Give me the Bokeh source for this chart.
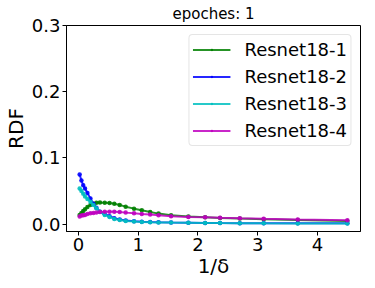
from bokeh.plotting import figure
from bokeh.embed import file_html
from bokeh.resources import INLINE
from bokeh.models import Range1d, FixedTicker, Legend, LegendItem

x = [0.02, 0.05, 0.08, 0.11, 0.15, 0.2, 0.25, 0.3, 0.36, 0.44, 0.52, 0.6, 0.69,
     0.79, 0.93, 1.06, 1.2, 1.34, 1.55, 1.84, 2.12, 2.37, 2.7, 3.1, 3.67, 4.5]

resnet1 = [0.014, 0.017, 0.020, 0.0225, 0.026, 0.029, 0.031, 0.0323, 0.0328, 0.0325,
           0.032, 0.031, 0.029, 0.0265, 0.0235, 0.021, 0.0185, 0.016, 0.0135, 0.0115,
           0.0105, 0.0095, 0.0085, 0.0075, 0.0065, 0.005]
resnet2 = [0.075, 0.066, 0.059, 0.054, 0.047, 0.039, 0.031, 0.025, 0.019, 0.015,
           0.012, 0.009, 0.007, 0.0055, 0.0045, 0.0038, 0.0032, 0.0028, 0.0025, 0.0022,
           0.002, 0.0018, 0.0016, 0.0015, 0.0014, 0.0013]
resnet3 = [0.054, 0.050, 0.046, 0.042, 0.038, 0.034, 0.029, 0.024, 0.019, 0.014,
           0.011, 0.008, 0.0065, 0.005, 0.004, 0.0035, 0.003, 0.0027, 0.0024, 0.0021,
           0.0019, 0.0017, 0.0015, 0.0013, 0.0011, 0.001]
resnet4 = [0.0115, 0.013, 0.0135, 0.014, 0.0155, 0.0165, 0.017, 0.0175, 0.0185, 0.019,
           0.019, 0.019, 0.0185, 0.0175, 0.0165, 0.0155, 0.0145, 0.0135, 0.012, 0.011,
           0.0105, 0.0098, 0.009, 0.0082, 0.0072, 0.006]

names = ["Resnet18-1", "Resnet18-2", "Resnet18-3", "Resnet18-4"]
colors = ["#008000", "#0000ff", "#00bfbf", "#bf00bf"]
series = [resnet1, resnet2, resnet3, resnet4]

x_ticks = [0, 1, 2, 3, 4]
y_ticks = [0.0, 0.1, 0.2, 0.3]

p = figure(width=367, height=280, output_backend="svg", toolbar_location=None,
           x_range=Range1d(-0.2, 4.72), y_range=Range1d(-0.011, 0.3),
           min_border_left=58, min_border_right=7, min_border_top=17, min_border_bottom=48,
           title="epoches: 1")
p.title.align = "center"
p.title.text_font = "DejaVu Sans"
p.title.text_font_size = "15px"
p.title.text_font_style = "normal"
p.title.text_color = "black"
p.title.offset = 0
p.title.standoff = 5

p.grid.visible = False
p.outline_line_color = "black"
p.outline_line_width = 1
p.background_fill_color = "white"
p.border_fill_color = "white"

for ax in (p.xaxis[0], p.yaxis[0]):
    ax.major_label_text_font = "DejaVu Sans"
    ax.major_label_text_font_size = "18px"
    ax.major_label_text_color = "black"
    ax.axis_label_text_font = "DejaVu Sans"
    ax.axis_label_text_font_size = "20px"
    ax.axis_label_text_font_style = "normal"
    ax.axis_label_text_color = "black"
    ax.minor_tick_line_color = None
    ax.major_tick_out = 4
    ax.major_tick_in = 0
    ax.axis_line_color = "black"
    ax.major_label_standoff = 2

p.xaxis[0].ticker = FixedTicker(ticks=x_ticks)
p.yaxis[0].ticker = FixedTicker(ticks=y_ticks)
p.yaxis[0].major_label_overrides = {t: f"{t:.1f}" for t in y_ticks}
p.xaxis[0].axis_label = "1/δ"
p.yaxis[0].axis_label = "RDF"
p.xaxis[0].axis_label_standoff = 0
p.yaxis[0].axis_label_standoff = 1

items = []
for name, col, ys in zip(names, colors, series):
    r1 = p.line(x, ys, line_color=col, line_width=2, line_alpha=0.85)
    r2 = p.scatter(x, ys, marker="dot", size=18, fill_color=col, line_color=col, alpha=0.9)
    items.append(LegendItem(label=name, renderers=[r1, r2]))

legend = Legend(items=items, location="top_right")
legend.label_text_font = "DejaVu Sans"
legend.label_text_font_size = "18px"
legend.label_text_color = "black"
legend.glyph_width = 38
legend.glyph_height = 23
legend.label_height = 23
legend.spacing = 4
legend.padding = 3
legend.margin = 9
legend.label_standoff = 14
legend.border_line_color = "#cccccc"
legend.border_line_width = 1
legend.border_radius = 4
legend.background_fill_alpha = 0.8
p.add_layout(legend)

open("out.html", "w").write(file_html(p, INLINE))
